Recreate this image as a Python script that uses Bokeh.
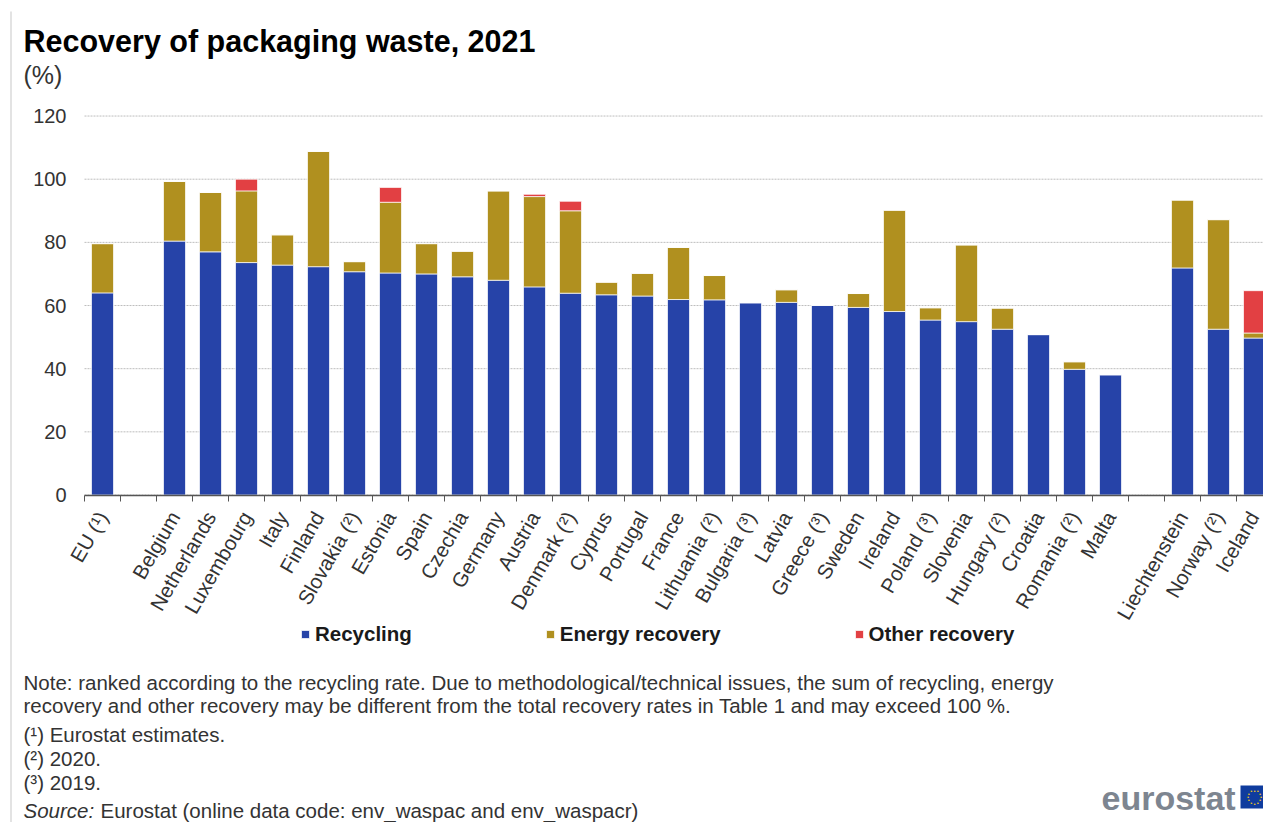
from bokeh.embed import file_html
from bokeh.resources import INLINE
from bokeh.plotting import figure
from bokeh.models import (ColumnDataSource, Range1d, FixedTicker, Label, BoxAnnotation,
                          Legend, LegendItem)
import math

# Chart data: "" marks an empty slot that separates the groups of countries
categories = ["EU (¹)", "", "Belgium", "Netherlands", "Luxembourg", "Italy", "Finland", "Slovakia (²)",
              "Estonia", "Spain", "Czechia", "Germany", "Austria", "Denmark (²)", "Cyprus", "Portugal",
              "France", "Lithuania (²)", "Bulgaria (³)", "Latvia", "Greece (³)", "Sweden", "Ireland",
              "Poland (³)", "Slovenia", "Hungary (²)", "Croatia", "Romania (²)", "Malta", "",
              "Liechtenstein", "Norway (²)", "Iceland"]
recycling = [64.0, 0, 80.4, 77.0, 73.6, 72.8, 72.3, 70.7, 70.3, 70.0, 69.1, 68.0, 65.9, 63.9, 63.4, 63.0,
             61.9, 61.8, 60.9, 61.0, 60.1, 59.4, 58.1, 55.4, 54.9, 52.5, 50.8, 39.8, 38.1, 0,
             71.9, 52.5, 49.7]
energy = [15.6, 0, 18.9, 18.8, 22.7, 9.6, 36.5, 3.2, 22.4, 9.6, 8.1, 28.3, 28.6, 26.1, 4.0, 7.2,
          16.5, 7.7, 0, 4.0, 0, 4.4, 32.1, 3.9, 24.3, 6.7, 0, 2.4, 0, 0,
          21.5, 34.7, 1.6]
other = [0, 0, 0, 0, 3.7, 0, 0, 0, 4.7, 0, 0, 0, 0.7, 3.0, 0, 0,
         0, 0, 0, 0, 0, 0, 0, 0, 0, 0, 0, 0, 0, 0,
         0, 0, 13.4]
y_ticks = [0, 20, 40, 60, 80, 100, 120]

title_text = "Recovery of packaging waste, 2021"
unit_text = "(%)"
note_lines = [
    ("Note: ranked according to the recycling rate. Due to methodological/technical issues, the sum of recycling, energy", 681.5),
    ("recovery and other recovery may be different from the total recovery rates in Table 1 and may exceed 100 %.", 704.5),
    ("(¹) Eurostat estimates.", 733.5),
    ("(²) 2020.", 757.5),
    ("(³) 2019.", 781.5),
]

BLUE, OLIVE, RED = "#2643a8", "#b0901f", "#e24043"
FONT = "Liberation Sans"
TEXT = "#333333"

W, H = 1263, 822
LEFT, BASE_PX, SLOT_PX, UNIT_PX = 84, 494.5, 36.0, 3.158

n = len(categories)
xs = [i + 0.5 for i in range(n)]
filled = [i for i, c in enumerate(categories) if c]
source = ColumnDataSource(dict(x=[xs[i] for i in filled],
                               Recycling=[recycling[i] for i in filled],
                               Energy=[energy[i] for i in filled],
                               Other=[other[i] for i in filled]))

# The frame fills the page so that the notes, legend and logo can share it with the axes
p = figure(width=W, height=H, output_backend="svg", toolbar_location=None,
           x_range=Range1d(-LEFT / SLOT_PX, (W - LEFT) / SLOT_PX),
           y_range=Range1d((BASE_PX - H) / UNIT_PX, BASE_PX / UNIT_PX),
           min_border=0, outline_line_color=None,
           background_fill_color="white", border_fill_color="white")

p.xgrid.visible = False
p.ygrid.visible = False
p.segment(x0=[0] * len(y_ticks), x1=[(W - LEFT) / SLOT_PX] * len(y_ticks), y0=y_ticks, y1=y_ticks,
          line_color="#bdbdbd", line_dash="2 1", line_width=1, level="underlay")

bars = p.vbar_stack(["Recycling", "Energy", "Other"], x="x", width=22 / SLOT_PX, source=source,
                    color=[BLUE, OLIVE, RED], line_color="white", line_width=1, line_alpha=0.7)

# Category axis: labels sit on slot centres, tick marks on slot boundaries
ax = p.xaxis[0]
ax.fixed_location = 0
ax.bounds = (0, n)
ax.ticker = FixedTicker(ticks=xs, minor_ticks=list(range(n + 1)))
ax.major_label_overrides = {x: c for x, c in zip(xs, categories)}
ax.major_label_orientation = math.radians(60)
ax.major_label_text_font = FONT
ax.major_label_text_font_size = "20.5px"
ax.major_label_text_color = TEXT
ax.major_label_standoff = 12
ax.major_tick_in = 0
ax.major_tick_out = 0
ax.minor_tick_in = 0
ax.minor_tick_out = 6
ax.minor_tick_line_color = "#555555"
ax.minor_tick_line_width = 1
ax.axis_line_color = "#555555"
ax.axis_line_width = 1.5

ay = p.yaxis[0]
ay.fixed_location = 0
ay.ticker = FixedTicker(ticks=y_ticks)
ay.axis_line_color = None
ay.major_tick_line_color = None
ay.minor_tick_line_color = None
ay.major_label_text_font = FONT
ay.major_label_text_font_size = "20px"
ay.major_label_text_color = TEXT
ay.major_label_standoff = 12


def text(x, y, s, size, style="normal", color=TEXT):
    p.add_layout(Label(x=x, y=y, x_units="canvas", y_units="canvas", text=s, text_font=FONT,
                       text_font_size=f"{size}px", text_font_style=style, text_color=color,
                       text_baseline="middle", text_align="left"))


text(23, 40, title_text, 30.5, "bold", "#000000")
text(23, 74, unit_text, 25)
for line, y in note_lines:
    text(23, y, line, 20.5)
text(23, 809.5, "Source:", 20.5, "italic")
text(100, 809.5, "Eurostat (online data code: env_waspac and env_waspacr)", 20.5)

# Left rule of the page
p.add_layout(BoxAnnotation(left=10, right=11, top=11, bottom=H, left_units="canvas", right_units="canvas",
                           top_units="canvas", bottom_units="canvas", fill_color="#c8c8c8", fill_alpha=1,
                           line_color=None))

# Eurostat wordmark with its flag
text(1101, 797, "eurostat", 34, "bold", "#7d8590")
p.add_layout(BoxAnnotation(left=1240, right=1263, top=785, bottom=808, left_units="canvas", right_units="canvas",
                           top_units="canvas", bottom_units="canvas", fill_color="#0f3c9e", fill_alpha=1,
                           line_color=None))
for k in range(12):
    a = math.radians(30 * k)
    p.add_layout(Label(x=1254 + 6.5 * math.cos(a), y=796.5 + 6.5 * math.sin(a), x_units="canvas", y_units="canvas",
                       text="•", text_font=FONT, text_font_size="6px", text_color="#e8c320",
                       text_align="center", text_baseline="middle"))

legend = Legend(items=[LegendItem(label="Recycling", renderers=[bars[0]]),
                       LegendItem(label="Energy recovery", renderers=[bars[1]]),
                       LegendItem(label="Other recovery", renderers=[bars[2]])],
                orientation="horizontal", location=(300, 176), spacing=133, glyph_width=10, glyph_height=10,
                label_standoff=5, label_text_font=FONT, label_text_font_size="20.5px",
                label_text_font_style="bold", label_text_color="#1a1a1a", border_line_color=None,
                background_fill_alpha=0, padding=0, margin=0)
p.add_layout(legend, "center")

open("out.html", "w").write(file_html(p, INLINE))
